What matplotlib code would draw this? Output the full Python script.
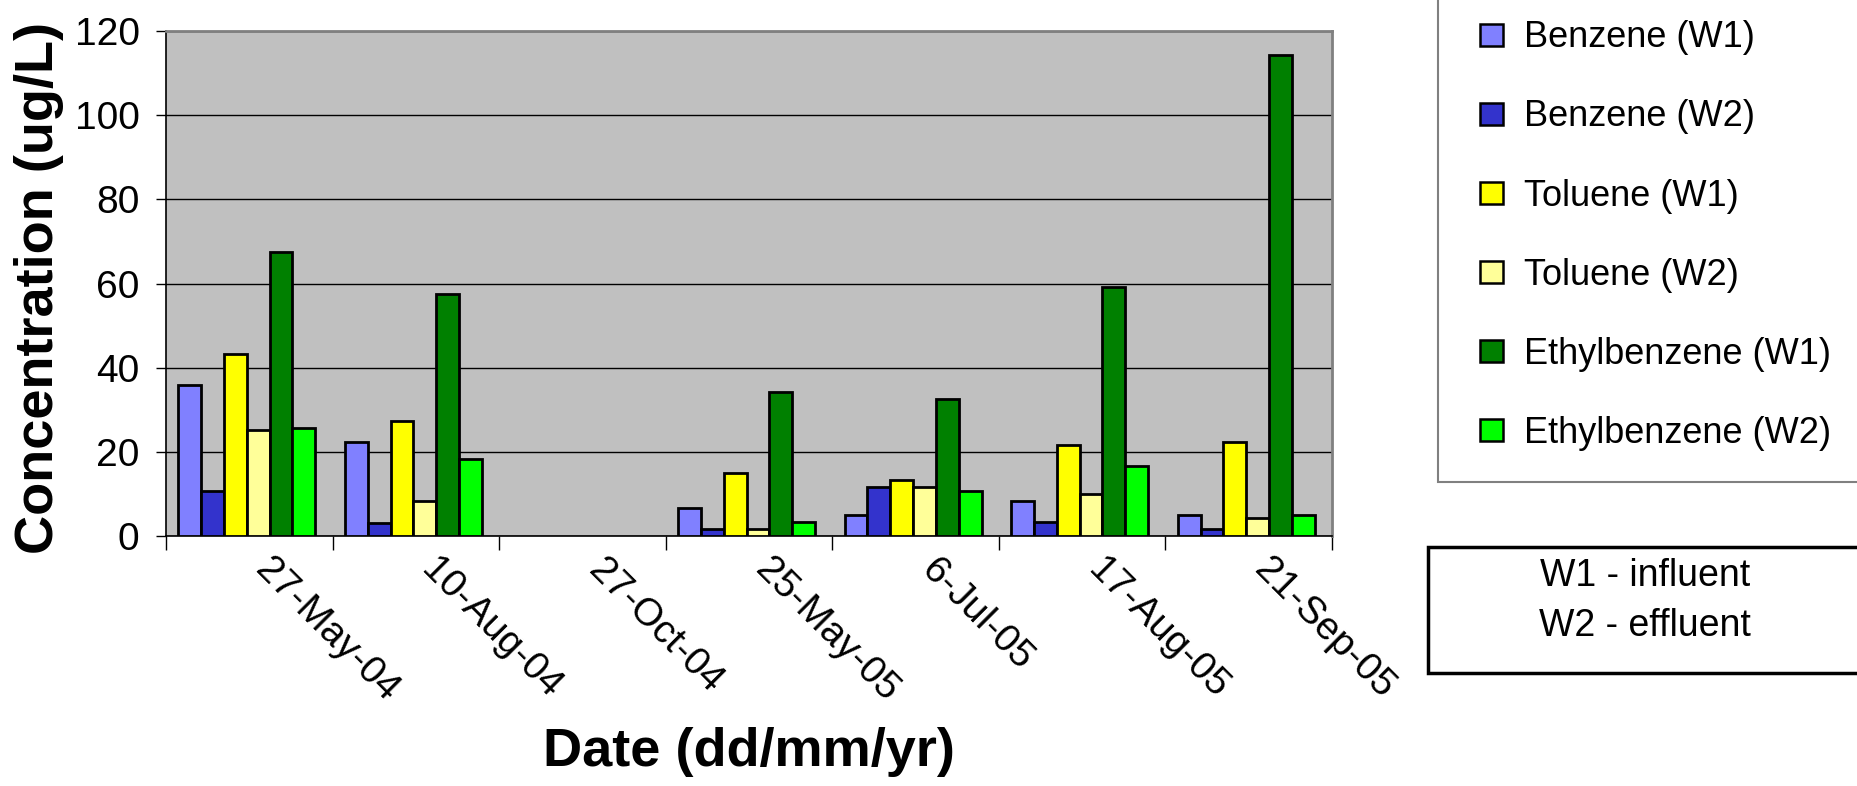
import numpy as np
import matplotlib
matplotlib.use("Agg")
import matplotlib.pyplot as plt
from matplotlib.patches import Patch, Rectangle
from matplotlib.transforms import ScaledTranslation

plt.rcParams['font.family'] = ['Liberation Sans', 'DejaVu Sans']

# Data
dates = ['27-May-04', '10-Aug-04', '27-Oct-04', '25-May-05', '6-Jul-05', '17-Aug-05', '21-Sep-05']
benzene_w1 = [35.9, 22.4, np.nan, 6.7, 5.1, 8.3, 5.1]
benzene_w2 = [10.8, 3.0, np.nan, 1.7, 11.6, 3.4, 1.7]
toluene_w1 = [43.2, 27.4, np.nan, 14.9, 13.3, 21.7, 22.3]
toluene_w2 = [25.1, 8.3, np.nan, 1.7, 11.6, 9.9, 4.2]
ethylbenzene_w1 = [67.5, 57.4, np.nan, 34.2, 32.5, 59.2, 114.2]
ethylbenzene_w2 = [25.7, 18.2, np.nan, 3.4, 10.8, 16.6, 5.1]

series_names = ['Benzene (W1)', 'Benzene (W2)', 'Toluene (W1)', 'Toluene (W2)',
                'Ethylbenzene (W1)', 'Ethylbenzene (W2)']
series_values = [benzene_w1, benzene_w2, toluene_w1, toluene_w2, ethylbenzene_w1, ethylbenzene_w2]
series_colors = ['#8080FF', '#3333CC', '#FFFF00', '#FFFF99', '#008000', '#00FF00']

W, H = 1858, 786
fig = plt.figure(figsize=(W / 100, H / 100), dpi=100)
ax = fig.add_axes([166 / W, 1 - 536 / H, (1332 - 166) / W, (536 - 31) / H])
ax.set_facecolor('#C0C0C0')

n_cat = len(dates)
centers = np.arange(n_cat) + 0.5
bar_w = 0.137
for k, (name, vals, col) in enumerate(zip(series_names, series_values, series_colors)):
    offs = (k - 2.5) * bar_w - 0.015
    ax.bar(centers + offs, vals, width=bar_w, color=col, edgecolor='black',
           linewidth=2.0, label=name, zorder=3)

ax.set_xlim(0, n_cat)
ax.set_ylim(0, 120)
ax.set_yticks(np.arange(0, 121, 20))
ax.yaxis.grid(True, color='black', linewidth=1.0, zorder=1)
ax.set_axisbelow(True)
ax.tick_params(axis='y', labelsize=28, length=7, width=1, pad=12, direction='out')

# category boundary ticks, labels drawn separately (rotated)
ax.set_xticks(np.arange(n_cat + 1))
ax.set_xticklabels([])
ax.tick_params(axis='x', length=10, width=1, direction='out')

lab_tr = ax.get_xaxis_transform() + ScaledTranslation(24 / 100, -16 / 100, fig.dpi_scale_trans)
for c, d in zip(centers, dates):
    ax.text(c, 0, d, transform=lab_tr, rotation=-45, rotation_mode='anchor',
            ha='left', va='top', fontsize=28)

for s in ['top', 'right']:
    ax.spines[s].set_color('#808080')
    ax.spines[s].set_linewidth(2)
for s in ['left', 'bottom']:
    ax.spines[s].set_color('black')
    ax.spines[s].set_linewidth(1.2)

fig.text(39 / W, 1 - 288 / H, 'Concentration (ug/L)', rotation=90, ha='center', va='center',
         fontsize=39, fontweight='bold')
fig.text(749 / W, 1 - 752 / H, 'Date (dd/mm/yr)', ha='center', va='center',
         fontsize=39, fontweight='bold')

# series legend (frame clipped at figure edge like the reference)
fig.patches.append(Rectangle((1438 / W, 1 - 482 / H), 0.5, 0.7, transform=fig.transFigure,
                             facecolor='white', edgecolor='#808080', linewidth=1.5))
handles = [Patch(facecolor=c, edgecolor='black', linewidth=1.8) for c in series_colors]
fig.legend(handles, series_names, loc='upper left', bbox_to_anchor=(1466 / W, 1 - 6 / H),
           frameon=False, fontsize=26, handlelength=0.62, handleheight=0.55,
           handletextpad=0.6, labelspacing=1.22, borderaxespad=0)

# W1/W2 note box
fig.patches.append(Rectangle((1428 / W, 1 - 673 / H), 0.5, 126 / H, transform=fig.transFigure,
                             facecolor='white', edgecolor='black', linewidth=2.5))
fig.text(1645 / W, 1 - 576 / H, 'W1 - influent', ha='center', va='center', fontsize=27)
fig.text(1645 / W, 1 - 626 / H, 'W2 - effluent', ha='center', va='center', fontsize=27)

fig.savefig('out.png', dpi=100)
